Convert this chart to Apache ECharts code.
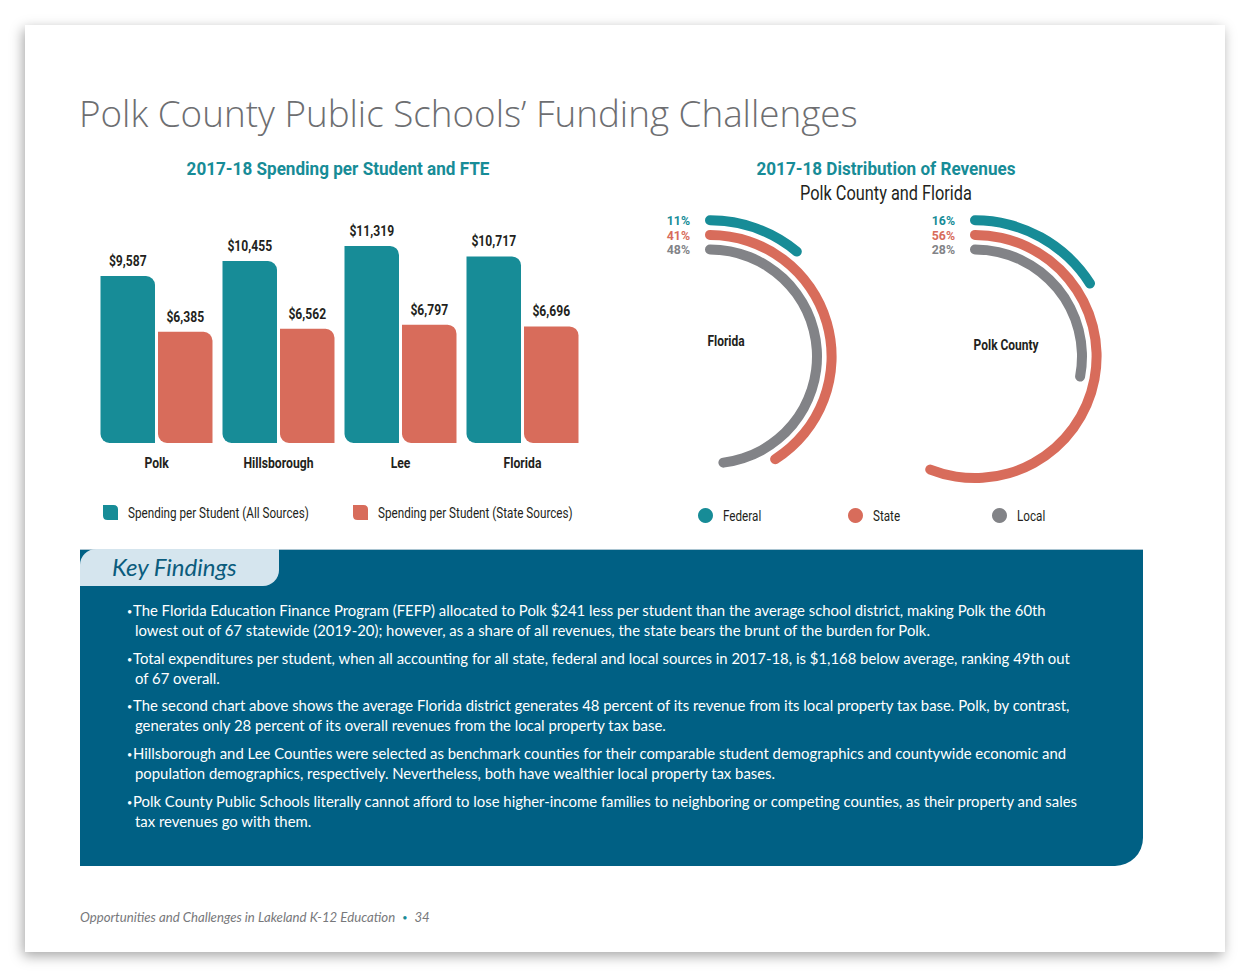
<!DOCTYPE html>
<html><head><meta charset="utf-8">
<script src="https://cdn.jsdelivr.net/npm/echarts@6/dist/echarts.min.js"></script>
<style>
html,body{margin:0;padding:0;background:#fff;width:1250px;height:977px;overflow:hidden;}
#card{position:absolute;left:25px;top:25px;width:1200px;height:927px;background:#fff;box-shadow:-2px 4px 12px rgba(0,0,0,0.35);}
#pageTitle{position:absolute;left:79px;top:88px;font-family:'Open Sans',sans-serif;font-weight:300;font-size:36.8px;color:#6d6e71;white-space:nowrap;}
#chart{position:absolute;left:0;top:0;width:1250px;height:545px;}
#box{position:absolute;left:80px;top:549px;width:1063px;height:317px;background:#006084;border-bottom-right-radius:28px;border-top:1px solid #a9c4d1;box-sizing:border-box;}
#tab{position:absolute;left:80px;top:549px;width:199px;height:37px;background:#d5e5ee;border-top-left-radius:16px;border-bottom-right-radius:16px;}
#tab span{position:absolute;left:32px;top:3px;font-family:'Lato',sans-serif;font-style:italic;font-size:24px;color:#0b5c7d;white-space:nowrap;}
.find{position:absolute;left:127px;font-family:'Lato',sans-serif;font-size:14.88px;color:#fff;white-space:nowrap;line-height:20px;}
.find .b{display:inline-block;width:6px;font-size:9px;line-height:0;vertical-align:1px;}
.find .c{padding-left:8px;}
#footer{position:absolute;left:80px;top:909px;font-family:'Lato',sans-serif;font-style:italic;font-size:13.2px;color:#77787b;white-space:nowrap;}
#footer .dot{color:#1a8b97;font-size:9px;margin:0 7px;vertical-align:1px;font-style:normal;}
</style></head>
<body>
<div id="card"></div>
<div id="pageTitle">Polk County Public Schools’ Funding Challenges</div>
<div id="chart"></div>
<div id="box"></div>
<div id="tab"><span>Key Findings</span></div>
<div class="find" style="top:600px"><span class="b">•</span>The Florida Education Finance Program (FEFP) allocated to Polk $241 less per student than the average school district, making Polk the 60th<br><span class="c">lowest out of 67 statewide (2019-20); however, as a share of all revenues, the state bears the brunt of the burden for Polk.</span></div>
<div class="find" style="top:648px"><span class="b">•</span>Total expenditures per student, when all accounting for all state, federal and local sources in 2017-18, is $1,168 below average, ranking 49th out<br><span class="c">of 67 overall.</span></div>
<div class="find" style="top:695px"><span class="b">•</span>The second chart above shows the average Florida district generates 48 percent of its revenue from its local property tax base. Polk, by contrast,<br><span class="c">generates only 28 percent of its overall revenues from the local property tax base.</span></div>
<div class="find" style="top:743px"><span class="b">•</span>Hillsborough and Lee Counties were selected as benchmark counties for their comparable student demographics and countywide economic and<br><span class="c">population demographics, respectively. Nevertheless, both have wealthier local property tax bases.</span></div>
<div class="find" style="top:791px"><span class="b">•</span>Polk County Public Schools literally cannot afford to lose higher-income families to neighboring or competing counties, as their property and sales<br><span class="c">tax revenues go with them.</span></div>
<div id="footer">Opportunities and Challenges in Lakeland K-12 Education<span class="dot">•</span>34</div>
<script>
// ---- data ----
const categories = ['Polk', 'Hillsborough', 'Lee', 'Florida'];
const allSources = [9587, 10455, 11319, 10717];
const stateSources = [6385, 6562, 6797, 6696];
const seriesNames = ['Spending per Student (All Sources)', 'Spending per Student (State Sources)'];
const revenueSources = ['Local', 'State', 'Federal'];   // inner ring -> outer ring
const floridaShares = [48, 41, 11];
const polkShares = [28, 56, 16];
const regionNames = ['Florida', 'Polk County'];
const legendSources = ['Federal', 'State', 'Local'];

const FAM = 'Roboto';
const FONT = 'Roboto, sans-serif';
// text styles; each is later narrowed horizontally to imitate a condensed face
const TX = {
  title:  {w: 'bold',   size: 19,   sample: '2017-18 Spending per Student and FTE', target: 303},
  sub:    {w: 'normal', size: 19.5, sample: 'Polk County and Florida', target: 172},
  value:  {w: 'bold',   size: 14,   sample: '$11,319', target: 44.7},
  cat:    {w: 'bold',   size: 15,   sample: 'Hillsborough', target: 70},
  legend: {w: 'normal', size: 15.5, sample: 'Spending per Student (All Sources)', target: 181},
  pct:    {w: 'bold',   size: 13,   sample: '11%', target: 23.3},
  region: {w: 'bold',   size: 14.2, sample: 'Polk County', target: 65}
};
const ctx = document.createElement('canvas').getContext('2d');
const scaleByKey = {};
Object.values(TX).forEach(t => {
  ctx.font = t.w + ' ' + t.size + 'px ' + FAM;
  const s = t.target / ctx.measureText(t.sample).width;
  scaleByKey[(t.w === 'bold' ? 700 : 400) + '|' + t.size] = s;
});

const TEAL = '#178c97', RED = '#d86c5b', GRAY = '#828387', DARK = '#231f20';
const srcColors = {Local: GRAY, State: RED, Federal: TEAL};
const leaf = 'path://M0,0 L7,0 Q10,0 10,3 L10,10 L3,10 Q0,10 0,7 Z';

const chart = echarts.init(document.getElementById('chart'), null, {renderer: 'svg'});
function fmt(v) { return '$' + v.toLocaleString('en-US'); }

const polarSeries = [floridaShares, polkShares].map((shares, p) => ({
  type: 'bar', coordinateSystem: 'polar', polarIndex: p, name: regionNames[p],
  data: shares.map((v, i) => ({value: v, itemStyle: {color: srcColors[revenueSources[i]]}, label: {color: srcColors[revenueSources[i]]}})),
  barWidth: 10, roundCap: true, silent: true,
  label: {show: true, position: 'start', distance: 15, formatter: '{c}%', fontFamily: FONT, fontWeight: 'bold', fontSize: TX.pct.size}
}));
const legendDummies = legendSources.map(s => ({type: 'line', name: s, data: [], itemStyle: {color: srcColors[s]}, lineStyle: {color: srcColors[s]}}));

const lt = {fontSize: TX.legend.size, color: DARK, fontFamily: FONT, padding: [0, 0, 0, 5]};
function gtext(x, y, text, t, fill) {
  return {type: 'text', x: x, y: y, style: {text: text, align: 'center', verticalAlign: 'middle', fill: fill, font: t.w + ' ' + t.size + 'px ' + FONT}};
}
const option = {
  animation: false,
  textStyle: {fontFamily: FONT},
  graphic: [
    gtext(338, 168, '2017-18 Spending per Student and FTE', TX.title, TEAL),
    gtext(886, 168, '2017-18 Distribution of Revenues', TX.title, TEAL),
    gtext(886, 193, 'Polk County and Florida', TX.sub, DARK),
    gtext(726, 341, regionNames[0], TX.region, DARK),
    gtext(1006, 345, regionNames[1], TX.region, DARK)
  ],
  legend: [
    {data: [{name: seriesNames[0], icon: leaf}], left: 103, top: 504.5, padding: 0, itemWidth: 15, itemHeight: 15, textStyle: lt, selectedMode: false},
    {data: [{name: seriesNames[1], icon: leaf}], left: 353, top: 504.5, padding: 0, itemWidth: 15, itemHeight: 15, textStyle: lt, selectedMode: false},
    {data: [{name: legendSources[0], icon: 'circle'}], left: 698, top: 507.5, padding: 0, itemWidth: 15, itemHeight: 15, textStyle: lt, selectedMode: false},
    {data: [{name: legendSources[1], icon: 'circle'}], left: 848, top: 507.5, padding: 0, itemWidth: 15, itemHeight: 15, textStyle: lt, selectedMode: false},
    {data: [{name: legendSources[2], icon: 'circle'}], left: 992, top: 507.5, padding: 0, itemWidth: 15, itemHeight: 15, textStyle: lt, selectedMode: false}
  ],
  grid: {left: 95.5, right: 1250 - 583.5, top: 443 - 12000 / 57.45, bottom: 545 - 443, containLabel: false},
  xAxis: {type: 'category', data: categories, axisLine: {show: false}, axisTick: {show: false},
    axisLabel: {margin: 12, color: DARK, fontWeight: 'bold', fontSize: TX.cat.size, fontFamily: FONT}},
  yAxis: {type: 'value', min: 0, max: 12000, show: false, splitLine: {show: false}},
  polar: [
    {center: [710, 356.5], radius: [99.7, 143.5]},
    {center: [975, 356.5], radius: [99.7, 143.5]}
  ],
  angleAxis: [
    {polarIndex: 0, type: 'value', min: 0, max: 100, startAngle: 90, clockwise: true, show: false},
    {polarIndex: 1, type: 'value', min: 0, max: 100, startAngle: 90, clockwise: true, show: false}
  ],
  radiusAxis: [
    {polarIndex: 0, type: 'category', data: revenueSources, show: false},
    {polarIndex: 1, type: 'category', data: revenueSources, show: false}
  ],
  series: [
    {type: 'bar', name: seriesNames[0], data: allSources, barWidth: 54.5, barGap: '5.5%',
      itemStyle: {color: TEAL, borderRadius: [0, 9, 0, 9]},
      label: {show: true, position: 'top', distance: 8, formatter: p => fmt(p.value), color: DARK, fontWeight: 'bold', fontSize: TX.value.size, fontFamily: FONT}},
    {type: 'bar', name: seriesNames[1], data: stateSources, barWidth: 54.5, barGap: '5.5%',
      itemStyle: {color: RED, borderRadius: [0, 9, 0, 9]},
      label: {show: true, position: 'top', distance: 8, formatter: p => fmt(p.value), color: DARK, fontWeight: 'bold', fontSize: TX.value.size, fontFamily: FONT}}
  ].concat(polarSeries, legendDummies)
};
chart.setOption(option);

// narrow every chart text horizontally around its anchor (condensed look)
function condense() {
  document.querySelectorAll('#chart svg text').forEach(t => {
    if (t.dataset.cond) return;
    const cs = getComputedStyle(t);
    const wt = parseInt(cs.fontWeight, 10) >= 600 ? 700 : 400;
    const key = wt + '|' + parseFloat(cs.fontSize);
    const s = scaleByKey[key];
    if (!s) return;
    const bb = t.getBBox();
    const anchor = t.getAttribute('text-anchor') || cs.textAnchor || 'start';
    const ax = anchor === 'middle' ? bb.x + bb.width / 2 : (anchor === 'end' ? bb.x + bb.width : bb.x);
    const tr = t.getAttribute('transform') || '';
    t.setAttribute('transform', tr + ' translate(' + ax + ' 0) scale(' + s + ' 1) translate(' + (-ax) + ' 0)');
    t.dataset.cond = '1';
  });
}
condense();
chart.on('finished', condense);
</script>
</body></html>
